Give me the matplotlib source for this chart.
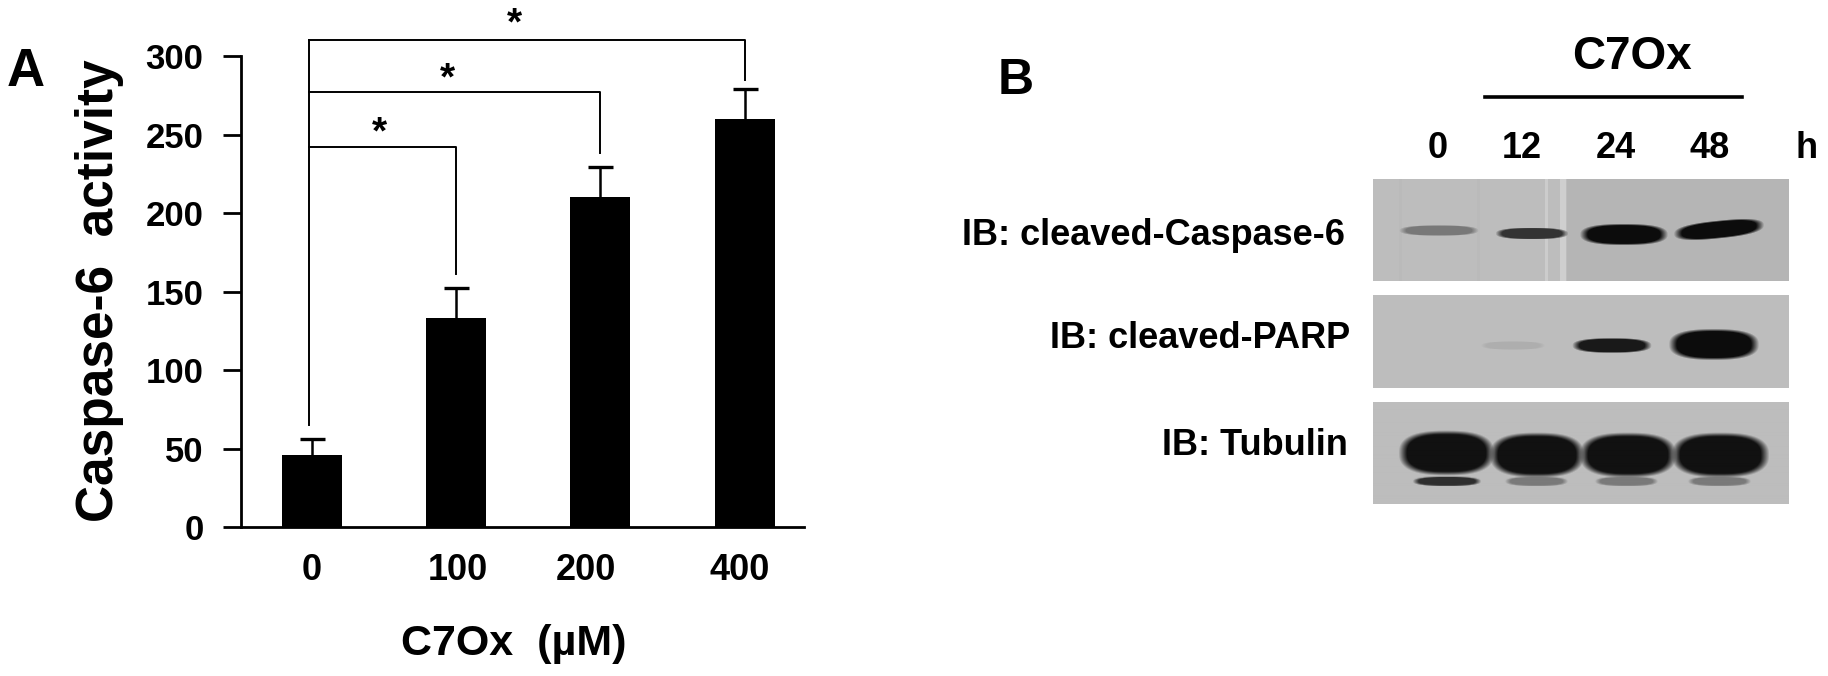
import numpy as np
import matplotlib
matplotlib.use('Agg')
import matplotlib.pyplot as plt

plt.rcParams['font.family'] = ['Liberation Sans', 'DejaVu Sans']
plt.rcParams['font.weight'] = 'bold'

W, H = 1828, 676

# panel A
doses = ['0', '100', '200', '400']
activity = [46, 133, 210, 260]
errors = [10, 19, 19, 19]
y_ticks = [0, 50, 100, 150, 200, 250, 300]

# significance brackets: bar index, bracket height, lower end of the drop
bracket_bars = [1, 2, 3]
bracket_tops = [242, 277, 310]
bracket_ends = [161, 238, 285]

# panel B
hours = ['0', '12', '24', '48']
blot_names = ['IB: cleaved-Caspase-6', 'IB: cleaved-PARP', 'IB: Tubulin']
caspase_gray = [0.47, 0.20, 0.05, 0.05]
parp_gray = [0.68, 0.10, 0.05]
tubulin_gray = [0.07, 0.07, 0.07, 0.07]
tubulin_low_gray = [0.18, 0.48, 0.48, 0.48]


def axes_px(left, top, right, bottom):
    return fig.add_axes([left / W, 1 - bottom / H, (right - left) / W, (bottom - top) / H])


def text_px(x, y, s, **kw):
    kw.setdefault('ha', 'center')
    kw.setdefault('va', 'center')
    fig.text(x / W, 1 - y / H, s, **kw)


def add_band(img, xs, ys, x0, x1, cy, h, gray, slope=0.0):
    # soft rounded blob, dark in the middle and fading into the membrane
    cx = (x0 + x1) / 2
    dist = np.abs((xs - cx) / ((x1 - x0) / 2)) ** 2.6 + np.abs((ys - cy - slope * (xs - cx)) / (h / 2)) ** 2.6
    alpha = np.clip((1.25 - dist) / 0.5, 0, 1)
    return img * (1 - alpha) + gray * alpha


fig = plt.figure(figsize=(W / 100, H / 100), dpi=100)

ax = axes_px(241, 56, 804, 527)
x = np.arange(len(doses))
tops = [a + e for a, e in zip(activity, errors)]
ax.bar(x, activity, width=0.415, color='black')
ax.vlines(x, activity, tops, color='black', lw=1.8)
ax.plot(x, tops, ls='none', marker='_', ms=18, mew=2.4, color='black')
ax.set_xlim(-0.49, 3.41)
ax.set_ylim(0, 300)
ax.set_yticks(y_ticks)
ax.set_xticks([])
for s in ['top', 'right']:
    ax.spines[s].set_visible(False)
for s in ['left', 'bottom']:
    ax.spines[s].set_linewidth(2)
ax.tick_params(axis='y', labelsize=25, width=2, length=13, pad=14)

for d, px in zip(doses, [312, 458, 586, 740]):
    text_px(px, 580, d, fontsize=26, va='baseline')

# brackets, all starting from the line above the first bar
base = x[0] - 0.02
ax.plot([base, base], [65, bracket_tops[-1]], color='black', lw=1.4, clip_on=False)
for i, top, end in zip(bracket_bars, bracket_tops, bracket_ends):
    ax.plot([base, i, i], [top, top, end], color='black', lw=1.4, clip_on=False)
for px, py in zip([379, 447, 514], [133, 79, 24]):
    text_px(px, py, '*', fontsize=28)

text_px(100, 291, 'Caspase-6  activity', fontsize=37, rotation=90)
text_px(514, 655, 'C7Ox  (µM)', fontsize=31, va='baseline')
text_px(26, 72, 'A', fontsize=38)
text_px(1016, 81, 'B', fontsize=36)

# blots
blot_left, blot_right = 1373, 1789
blot_rows = [(179, 281), (295, 388), (402, 504)]
blot_bg = [0.71, 0.74, 0.74]
for row, (top, bottom) in enumerate(blot_rows):
    b = axes_px(blot_left, top, blot_right, bottom)
    ys, xs = np.mgrid[top:bottom, blot_left:blot_right]
    img = np.full(xs.shape, blot_bg[row], dtype=float)
    if row == 0:
        # left part of this membrane is paler and streaky
        img[xs < 1567] += 0.03
        for sx, sw, lift in zip([1399, 1477, 1545, 1560], [3, 3, 3, 6], [-0.01, -0.01, 0.06, 0.07]):
            img[(xs >= sx) & (xs < sx + sw)] += lift
        for gray, lane in zip(caspase_gray, [(1402, 1475, 230, 10, 0), (1498, 1565, 233, 11, 0),
                                             (1583, 1664, 234, 20, 0), (1677, 1760, 229, 17, -0.1)]):
            img = add_band(img, xs, ys, lane[0], lane[1], lane[2], lane[3], gray, lane[4])
    elif row == 1:
        for gray, lane in zip(parp_gray, [(1483, 1542, 345, 8), (1575, 1648, 345, 14), (1672, 1755, 344, 29)]):
            img = add_band(img, xs, ys, lane[0], lane[1], lane[2], lane[3], gray)
    else:
        for gray, lane in zip(tubulin_gray, [(1402, 1490, 453), (1493, 1580, 455), (1583, 1672, 455), (1675, 1765, 455)]):
            img = add_band(img, xs, ys, lane[0], lane[1], lane[2], 41, gray)
        for gray, lane in zip(tubulin_low_gray, [(1415, 1478), (1507, 1565), (1597, 1655), (1690, 1748)]):
            img = add_band(img, xs, ys, lane[0], lane[1], 481, 9, gray)
    b.imshow(img, cmap='gray', vmin=0, vmax=1, aspect='auto', interpolation='bilinear')
    b.axis('off')

for name, x_right, y in zip(blot_names, [1345, 1350, 1348], [245, 348, 455]):
    text_px(x_right, y, name, fontsize=26, ha='right', va='baseline')
for h, cx in zip(hours, [1438, 1522, 1616, 1710]):
    text_px(cx, 148, h, fontsize=26)
text_px(1807, 148, 'h', fontsize=26)
text_px(1632, 57, 'C7Ox', fontsize=33)
fig.add_artist(plt.Line2D([1485 / W, 1742 / W], [1 - 97 / H, 1 - 97 / H], color='black', lw=2.6))

fig.savefig('out.png', dpi=100)
